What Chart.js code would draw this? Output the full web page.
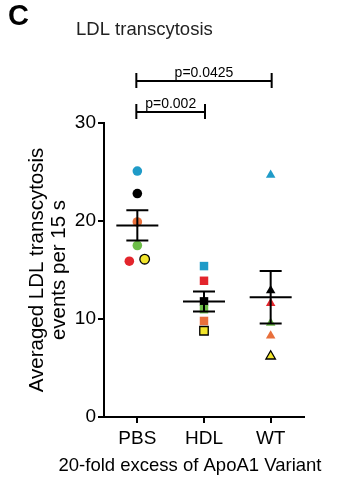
<!DOCTYPE html>
<html>
<head>
<meta charset="utf-8">
<script src="https://cdn.jsdelivr.net/npm/chart.js@4"></script>
<style>
html, body { margin: 0; padding: 0; background: #fff; }
#wrap { width: 344px; height: 481px; position: relative; }
</style>
</head>
<body>
<div id="wrap"><canvas id="canvas"></canvas></div>
<script>
var groups = ['PBS', 'HDL', 'WT'];
// donors, same order in every group: cyan, black, orange, green, red, yellow
var donorColors = ['#1f9bc8', '#000000', '#e86f3b', '#6dbd48', '#e3252c', '#f2e52c'];
var donorBorders = ['#1f9bc8', '#000000', '#e86f3b', '#6dbd48', '#e3252c', '#000000'];
var pbsValues = [25.1, 22.8, 19.9, 17.5, 15.9, 16.1];
var hdlValues = [15.4, 11.8, 9.8, 11.0, 13.9, 8.8];
var wtValues = [24.7, 12.9, 8.3, 9.6, 11.6, 6.2];
var pbsJitter = [0, 0, 0, 0, -0.12, 0.11];
var yTicks = [0, 10, 20, 30];
var comparisons = [
    { from: 0, to: 2, label: 'p=0.0425' },
    { from: 0, to: 1, label: 'p=0.002' }
];

var FONT = "'Liberation Sans', Arial, sans-serif";

function meanSem(vals) {
    var n = vals.length, sum = 0, ss = 0;
    for (var i = 0; i < n; i++) sum += vals[i];
    var m = sum / n;
    for (var i = 0; i < n; i++) ss += (vals[i] - m) * (vals[i] - m);
    return { mean: m, sem: Math.sqrt(ss / (n - 1)) / Math.sqrt(n) };
}

function groupDataset(vals, idx, style, radius, jitter) {
    var pts = [];
    for (var i = 0; i < vals.length; i++) {
        pts.push({ x: idx + 1 + (jitter ? jitter[i] : 0), y: vals[i] });
    }
    return {
        label: groups[idx],
        data: pts,
        pointStyle: style,
        pointRadius: radius,
        pointHoverRadius: radius,
        pointBackgroundColor: donorColors,
        pointBorderColor: donorBorders,
        pointBorderWidth: [0, 0, 0, 0, 0, 1.3],
        showLine: false,
        clip: false
    };
}

var allValues = [pbsValues, hdlValues, wtValues];

// mean +/- SEM bars and the p-value brackets
var extras = {
    id: 'extras',
    afterDatasetsDraw: function (chart) {
        var ctx = chart.ctx, xs = chart.scales.x, ys = chart.scales.y;
        ctx.save();
        ctx.strokeStyle = '#000';
        ctx.lineWidth = 2;
        for (var g = 0; g < allValues.length; g++) {
            var st = meanSem(allValues[g]);
            var x = xs.getPixelForValue(g + 1);
            var ym = ys.getPixelForValue(st.mean);
            var yt = ys.getPixelForValue(st.mean + st.sem);
            var yb = ys.getPixelForValue(st.mean - st.sem);
            ctx.beginPath();
            ctx.moveTo(x - 21, ym); ctx.lineTo(x + 21, ym);
            ctx.moveTo(x, yt); ctx.lineTo(x, yb);
            ctx.moveTo(x - 11, yt); ctx.lineTo(x + 11, yt);
            ctx.moveTo(x - 11, yb); ctx.lineTo(x + 11, yb);
            ctx.stroke();
        }
        ctx.restore();
    },
    afterDraw: function (chart) {
        var ctx = chart.ctx, xs = chart.scales.x, area = chart.chartArea;
        ctx.save();
        ctx.fillStyle = '#000';
        ctx.textBaseline = 'alphabetic';

        ctx.font = 'bold 29px ' + FONT;
        ctx.textAlign = 'left';
        ctx.fillText('C', 8, 25);

        ctx.fillStyle = '#222';
        ctx.font = '18.5px ' + FONT;
        ctx.fillText('LDL transcytosis', 76, 35);

        ctx.fillStyle = '#000';
        ctx.font = '18.5px ' + FONT;
        ctx.textAlign = 'center';
        ctx.fillText('20-fold excess of ApoA1 Variant', 190, 471);

        // significance brackets
        var levels = [area.top - 42, area.top - 11];
        ctx.strokeStyle = '#000';
        ctx.lineWidth = 2;
        ctx.font = '14px ' + FONT;
        for (var c = 0; c < comparisons.length; c++) {
            var cmp = comparisons[c];
            var x1 = xs.getPixelForValue(cmp.from + 1) - 1;
            var x2 = xs.getPixelForValue(cmp.to + 1) + 1;
            var y = levels[c];
            ctx.beginPath();
            ctx.moveTo(x1, y); ctx.lineTo(x2, y);
            ctx.moveTo(x1, y - 8); ctx.lineTo(x1, y + 7);
            ctx.moveTo(x2, y - 8); ctx.lineTo(x2, y + 7);
            ctx.stroke();
            ctx.fillText(cmp.label, (x1 + x2) / 2, y - 4);
        }
        ctx.restore();
    }
};

var ctx = document.getElementById('canvas').getContext('2d');

var chart = new Chart(ctx, {
    type: 'scatter',
    data: {
        datasets: [
            groupDataset(pbsValues, 0, 'circle', 4.8, pbsJitter),
            groupDataset(hdlValues, 1, 'rect', 6),
            groupDataset(wtValues, 2, 'triangle', 5.5)
        ]
    },
    options: {
        responsive: true,
        maintainAspectRatio: false,
        animation: false,
        layout: { padding: { top: 123, right: 40, left: 0, bottom: 0 } },
        plugins: {
            legend: { display: false },
            tooltip: { enabled: false }
        },
        scales: {
            x: {
                type: 'linear',
                min: 0.5,
                max: 3.5,
                afterBuildTicks: function (scale) {
                    scale.ticks = [1, 2, 3].map(function (v) { return { value: v }; });
                },
                afterFit: function (scale) { scale.height = 64; },
                ticks: {
                    color: '#000',
                    font: { family: FONT, size: 19 },
                    padding: 4,
                    maxRotation: 0,
                    callback: function (v) { return groups[v - 1]; }
                },
                grid: {
                    drawOnChartArea: false,
                    color: '#000',
                    lineWidth: 2,
                    tickLength: 6
                },
                border: { color: '#000', width: 2 }
            },
            y: {
                min: 0,
                max: 30,
                afterBuildTicks: function (scale) {
                    scale.ticks = yTicks.map(function (v) { return { value: v }; });
                },
                afterFit: function (scale) { scale.width = 104; },
                ticks: {
                    color: '#000',
                    font: { family: FONT, size: 19 },
                    padding: 2
                },
                grid: {
                    drawOnChartArea: false,
                    color: '#000',
                    lineWidth: 2,
                    tickLength: 6
                },
                border: { color: '#000', width: 2 },
                title: {
                    display: true,
                    text: ['Averaged LDL transcytosis', 'events per 15 s'],
                    color: '#000',
                    font: { family: FONT, size: 20.5, lineHeight: 1.05 },
                    padding: { top: 27, bottom: 0 }
                }
            }
        }
    },
    plugins: [extras]
});
</script>
</body>
</html>
